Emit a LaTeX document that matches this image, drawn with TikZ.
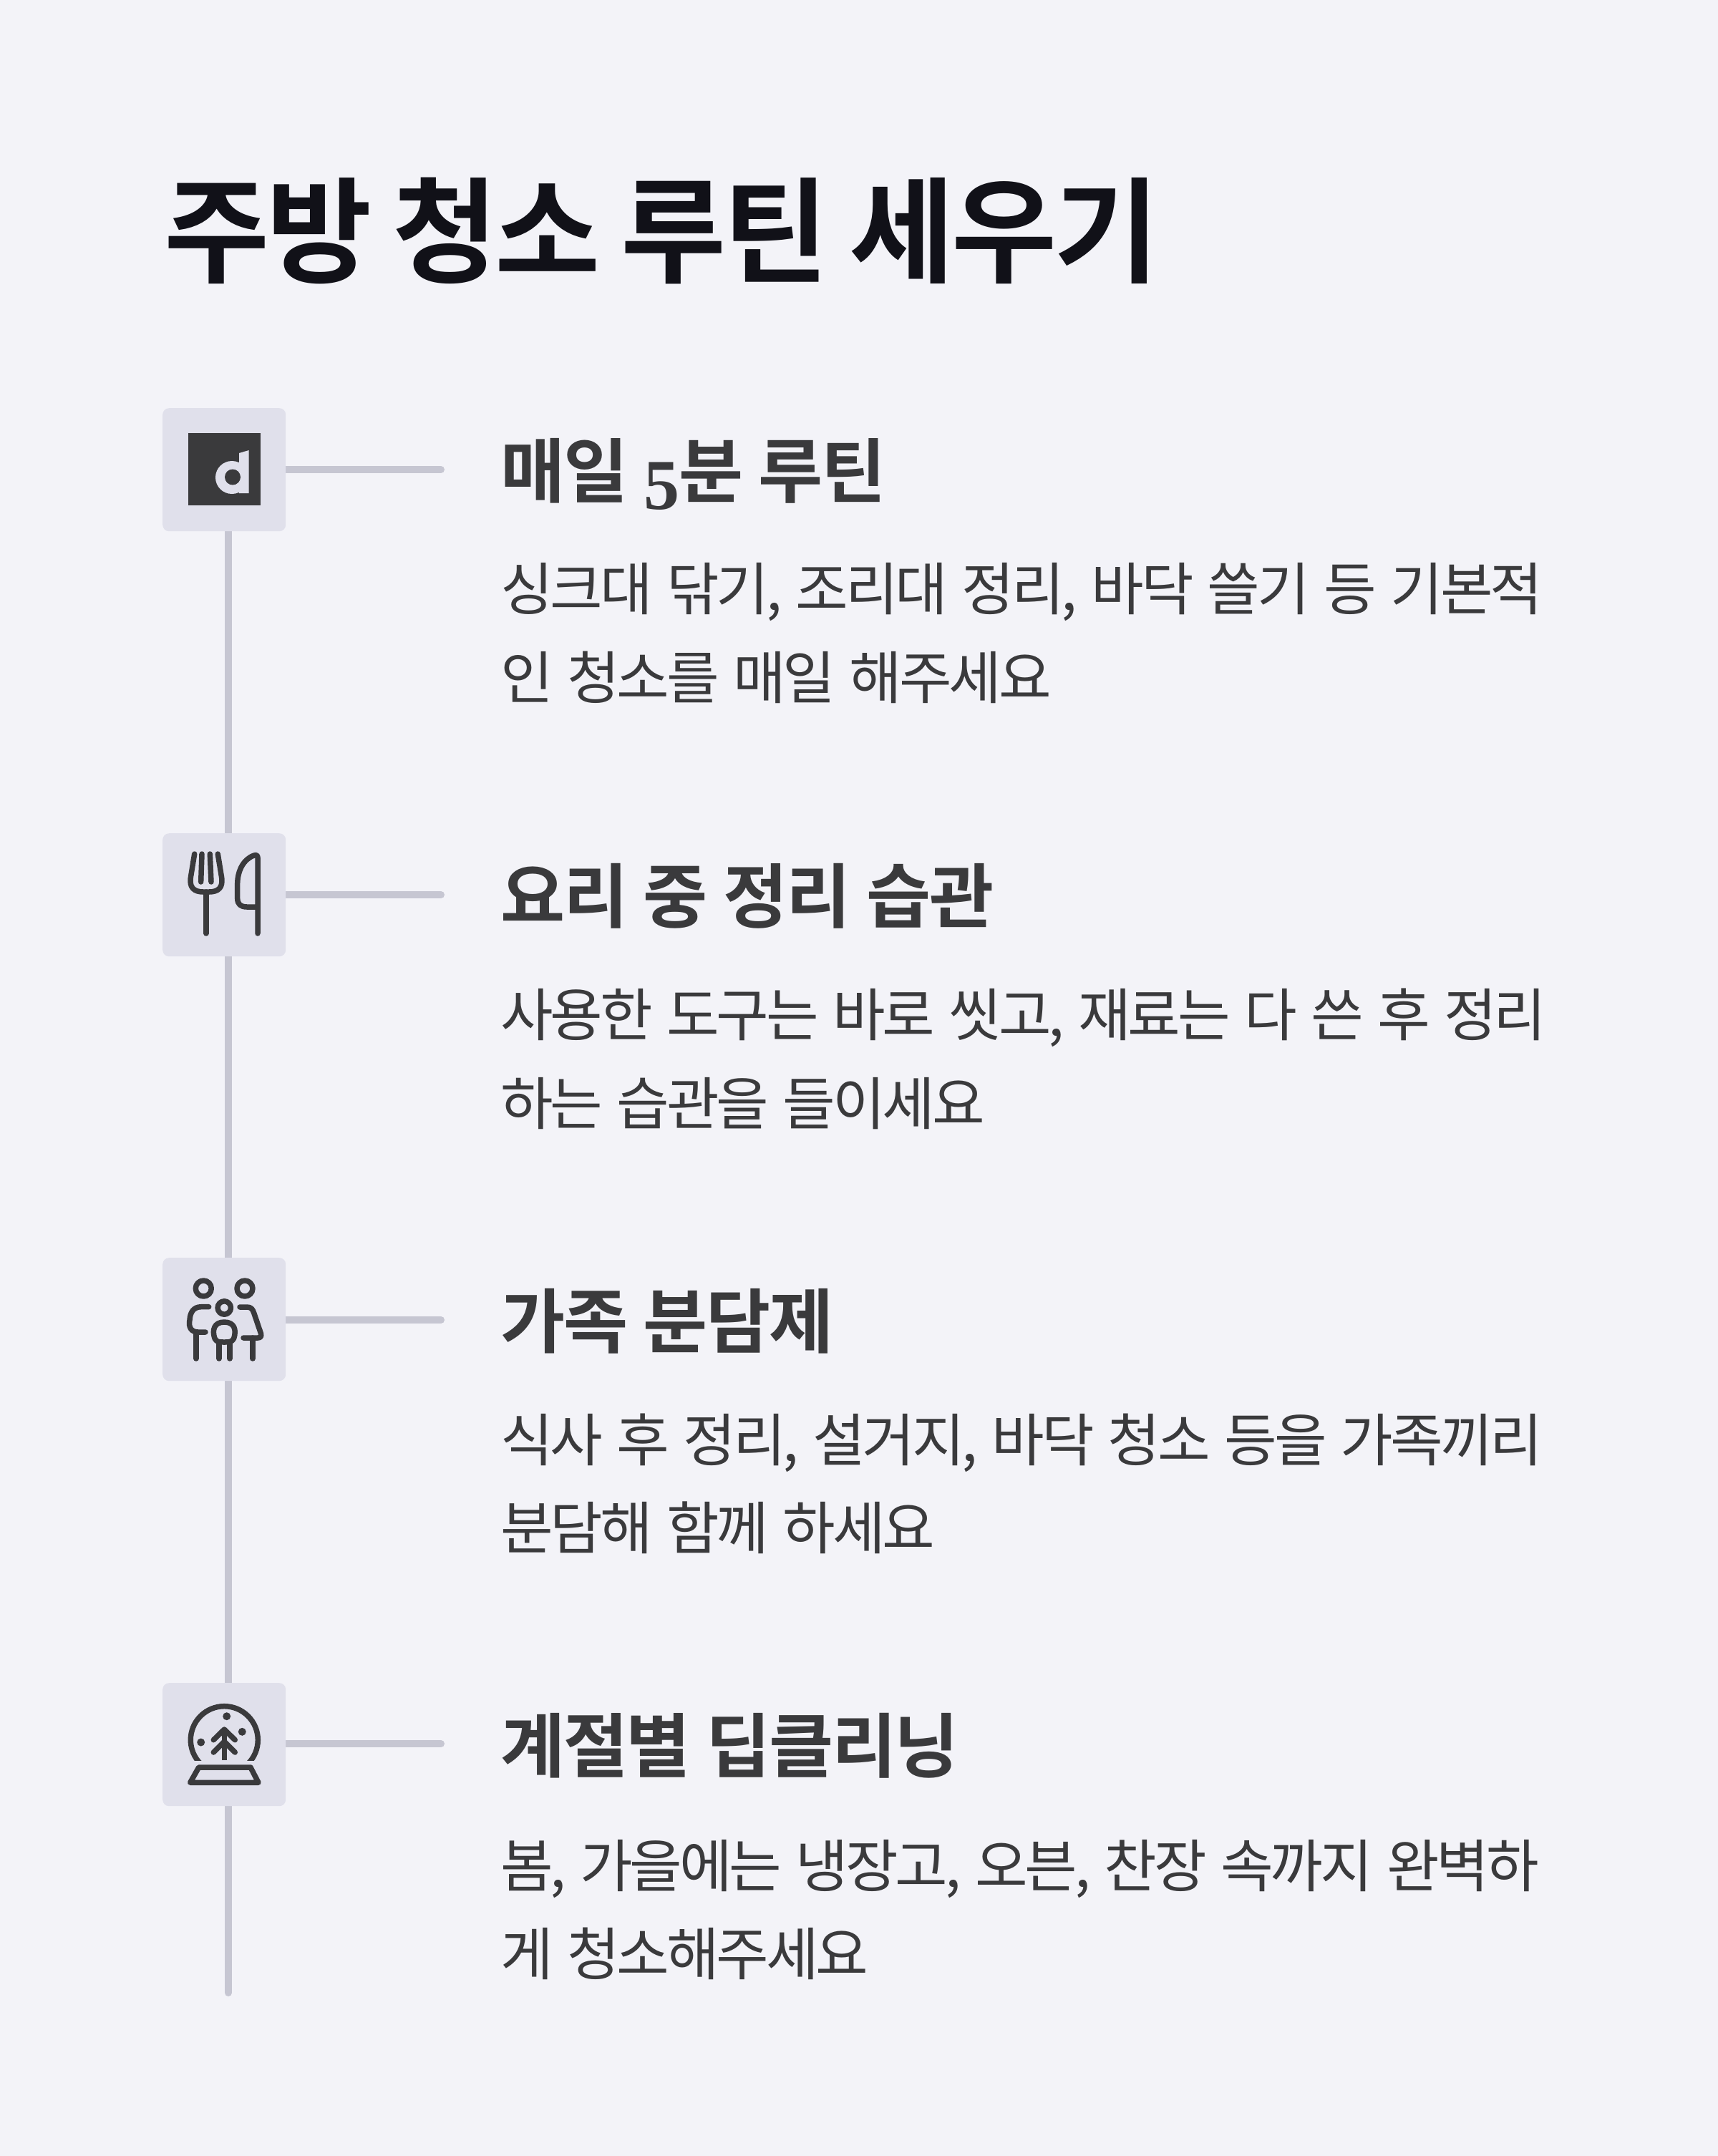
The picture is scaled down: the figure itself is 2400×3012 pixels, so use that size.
\documentclass[tikz,border=0pt]{standalone}
\usepackage{fontspec}
\usetikzlibrary{backgrounds}
\setmainfont{Noto Sans CJK KR}
\newfontfamily\bodyf[LetterSpace=-5.1,WordSpace=1.4]{Noto Sans CJK KR}
\newfontfamily\headf[LetterSpace=-2.5,WordSpace=1.1]{Noto Sans CJK KR Bold}
\newfontfamily\titlef[LetterSpace=-2.6,WordSpace=0.9]{Noto Sans CJK KR Bold}
\newfontfamily\numf{Liberation Serif}
\definecolor{bgc}{HTML}{F3F3F8}
\definecolor{boxc}{HTML}{E0E0EB}
\definecolor{linec}{HTML}{C6C6D2}
\definecolor{inkc}{HTML}{3A3A3C}
\definecolor{titlec}{HTML}{111118}
\tikzset{
 tile/.style={fill=boxc,rounded corners=9pt,minimum size=172pt,inner sep=0pt,anchor=north west},
 stub/.style={draw=linec,line width=10pt,line cap=round},
 ico/.style={draw=inkc,line width=7.5pt,line cap=round,line join=round},
 head/.style={anchor=base west,inner sep=0pt,text=inkc,font=\headf\fontsize{98}{98}\selectfont},
 body/.style={anchor=base west,inner sep=0pt,text=inkc,font=\bodyf\fontsize{80}{80}\selectfont},
}
\begin{document}
\begin{tikzpicture}[x=1pt,y=-1pt]
\useasboundingbox (0,0) rectangle (2400,3012);
\coordinate (railend) at (319,2784);
\node[tile] (t1) at (227,570) {};
\node[tile] (t2) at (227,1164) {};
\node[tile] (t3) at (227,1757) {};
\node[tile] (t4) at (227,2351) {};
\coordinate (e1) at (616,656);\coordinate (e2) at (616,1250);\coordinate (e3) at (616,1844);\coordinate (e4) at (616,2436);
\begin{scope}[on background layer]
\fill[bgc] (0,0) rectangle (2400,3012);
\draw[stub] (t1.south -| railend) -- (t2.north -| railend);
\draw[stub] (t2.south -| railend) -- (t3.north -| railend);
\draw[stub] (t3.south -| railend) -- (t4.north -| railend);
\draw[stub] (t4.south -| railend) -- (railend);
\draw[stub] (t1.east |- e1) -- (e1);
\draw[stub] (t2.east |- e2) -- (e2);
\draw[stub] (t3.east |- e3) -- (e3);
\draw[stub] (t4.east |- e4) -- (e4);
\end{scope}
% icon 1
\fill[inkc] (262.7,605) rectangle (363.7,705.7);
\fill[boxc] (324,667) circle (23pt);
\fill[boxc] (334,633) -- (347.7,629) -- (347.7,689) -- (334,689) -- cycle;
\fill[inkc] (325,666.5) circle (11pt);
% icon 2
\draw[ico] (271.7,1193) -- (266.5,1225) .. controls (264,1240) and (271,1246) .. (284,1246) -- (292,1246) .. controls (305,1246) and (312,1240) .. (309.5,1225) -- (304.3,1193);
\draw[ico] (282,1193) -- (280.7,1232);
\draw[ico] (293.3,1193) -- (295,1232);
\draw[ico] (288,1246) -- (288,1304);
\draw[ico] (360,1304) -- (360,1198) .. controls (360,1195) and (358,1194) .. (355,1195) .. controls (340,1200) and (331.7,1217) .. (331.7,1235) -- (331.7,1255) .. controls (331.7,1263) and (336,1267) .. (345,1267) -- (360,1267);
% icon 3
\draw[ico] (284.3,1800) circle (11pt);
\draw[ico] (342,1800) circle (11pt);
\draw[ico] (313.3,1827) circle (9.2pt);
\draw[ico] (291.7,1825.7) -- (281,1825.7) .. controls (270,1825.7) and (265.5,1834) .. (265,1844) .. controls (263,1854) and (267,1861) .. (277,1861) -- (287,1861);
\draw[ico] (274,1861) -- (274,1898);
\draw[ico] (335,1826) -- (345,1826) .. controls (351,1826) and (353,1829) .. (355,1835) -- (364.5,1863) .. controls (365.5,1867) and (364,1869) .. (360,1869) -- (340,1869);
\draw[ico] (353,1869) -- (353,1898);
\draw[ico] (300,1870) .. controls (296,1858) and (299,1847) .. (313.3,1847) .. controls (327.6,1847) and (330.6,1858) .. (326.6,1870) .. controls (324,1875) and (320,1875) .. (313.3,1875) .. controls (306.6,1875) and (302.6,1875) .. (300,1870) -- cycle;
\draw[ico] (306,1875) -- (306,1898);
\draw[ico] (321,1875) -- (321,1898);
% icon 4
\begin{scope}
\clip (250,2370) rectangle (380,2459);
\draw[ico,line cap=butt] (280.07,2463.9) arc[start angle=225,end angle=-45,radius=47pt];
\end{scope}
\fill[inkc] (316.7,2397.7) circle (5.5pt) (338.3,2419.3) circle (5.5pt) (280.7,2434) circle (5.5pt);
\draw[ico,line cap=butt] (313.3,2459) -- (313.3,2417);
\draw[ico] (298.3,2430.7) -- (313.3,2416) -- (328.3,2430.7);
\draw[ico] (298.3,2448) -- (313.3,2433) -- (328.3,2448);
\draw[ico] (277.7,2469) -- (350,2469) -- (361,2490.3) -- (265.7,2490.3) -- cycle;
% text
\node[anchor=base west,inner sep=0pt,text=titlec,font=\titlef\fontsize{160}{160}\selectfont] (title) at (229,382) {주방 청소 루틴 세우기};
\node[head] (h1) at (699,694) {매일\hspace{22pt}{\numf\bfseries\fontsize{100}{100}\selectfont\raisebox{-17pt}{5}}\hspace{-1pt}분 루틴};
\node[body] (b1a) at (699,852) {싱크대 닦기, 조리대 정리, 바닥 쓸기 등 기본적};
\node[body] (b1b) at (699,976) {인 청소를 매일 해주세요};
\node[head] (h2) at (699,1288) {요리 중 정리 습관};
\node[body] (b2a) at (699,1447) {사용한 도구는 바로 씻고, 재료는 다 쓴 후 정리};
\node[body] (b2b) at (699,1571) {하는 습관을 들이세요};
\node[head] (h3) at (699,1882) {가족 분담제};
\node[body] (b3a) at (699,2041) {식사 후 정리, 설거지, 바닥 청소 등을 가족끼리};
\node[body] (b3b) at (699,2164) {분담해 함께 하세요};
\node[head] (h4) at (699,2475) {계절별 딥클리닝};
\node[body] (b4a) at (699,2636) {봄, 가을에는 냉장고, 오븐, 찬장 속까지 완벽하};
\node[body] (b4b) at (699,2759) {게 청소해주세요};
\end{tikzpicture}
\end{document}
